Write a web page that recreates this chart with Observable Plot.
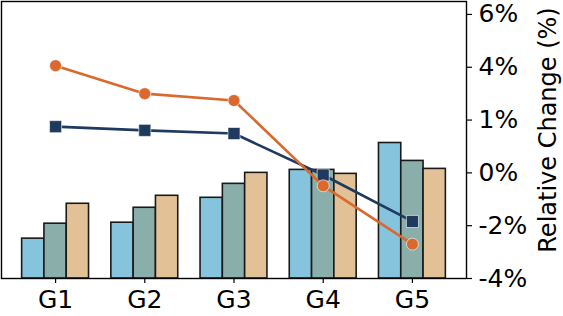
<!DOCTYPE html>
<html>
<head>
<meta charset="utf-8">
<script src="https://cdn.jsdelivr.net/npm/d3@7"></script>
<script src="https://cdn.jsdelivr.net/npm/@observablehq/plot@0.6"></script>
<style>
  html, body { margin: 0; padding: 0; background: #fff; }
  #wrap { position: relative; width: 563px; height: 316px; }
  #wrap svg { position: absolute; left: 0; top: 0; }
</style>
</head>
<body>
<div id="wrap"></div>
<script>
// ---- data ----
const groups = ["G1", "G2", "G3", "G4", "G5"];
const barSeries = ["A", "B", "C"];
const barA = [0.40, 0.56, 0.81, 1.09, 1.36];
const barB = [0.55, 0.71, 0.95, 1.09, 1.18];
const barC = [0.75, 0.83, 1.06, 1.05, 1.10];
const lineOrange = [4.06, 3.00, 2.74, -0.49, -2.70];
const lineNavy = [1.75, 1.61, 1.49, -0.08, -1.84];
const rightTicks = [-4, -2, 0, 2, 4, 6];
const rightTickLabels = ["-4%", "-2%", "0%", "1%", "4%", "6%"];
const yTitle = "Relative Change (%)";

// ---- layout ----
const W = 563, H = 316;
const margins = {marginLeft: 1, marginTop: 1, marginRight: 97, marginBottom: 38};
const font = "DejaVu Sans, sans-serif";
const barColors = ["#86C3DC", "#8AAEA9", "#E3C196"];
const orange = "#D9692F", navy = "#1E3A5F";

// band keys: three bars per group, one empty slot between groups
const keys = [];
groups.forEach((g, i) => {
  barSeries.forEach(s => keys.push(g + "-" + s));
  if (i < groups.length - 1) keys.push("gap" + i);
});
const midKey = g => g + "-" + barSeries[1];

const barVals = [barA, barB, barC];
const bars = [];
groups.forEach((g, i) => barSeries.forEach((s, j) =>
  bars.push({key: g + "-" + s, series: s, value: barVals[j][i]})));

const linesO = groups.map((g, i) => ({key: midKey(g), v: lineOrange[i]}));
const linesN = groups.map((g, i) => ({key: midKey(g), v: lineNavy[i]}));

const xScale = {type: "band", domain: keys, paddingInner: 0, paddingOuter: 0.925, align: 0.5, round: false};

const barPlot = Plot.plot({
  width: W, height: H, ...margins,
  style: {fontFamily: font, fontSize: "24px", background: "transparent", overflow: "visible"},
  x: {...xScale, axis: null},
  y: {domain: [0, 2.78], axis: null},
  color: {domain: barSeries, range: barColors},
  marks: [
    Plot.barY(bars, {x: "key", y: "value", fill: "series", stroke: "#1a1a1a", strokeWidth: 1.6, inset: 0})
  ]
});

const linePlot = Plot.plot({
  width: W, height: H, ...margins,
  style: {fontFamily: font, fontSize: "24px", background: "transparent", overflow: "visible", color: "black"},
  x: xScale,
  y: {domain: [-4, 6.49]},
  marks: [
    Plot.line(linesN, {x: "key", y: "v", stroke: navy, strokeWidth: 2.6}),
    Plot.dot(linesN, {x: "key", y: "v", symbol: "square", r: 6.8, fill: navy, stroke: "white", strokeWidth: 0.6}),
    Plot.line(linesO, {x: "key", y: "v", stroke: orange, strokeWidth: 2.6}),
    Plot.dot(linesO, {x: "key", y: "v", r: 6, fill: orange, stroke: "white", strokeWidth: 0.6}),
    Plot.frame({stroke: "black", strokeWidth: 1.4}),
    Plot.axisX(groups.map(midKey), {tickFormat: k => k.split("-")[0], tickSize: 5, tickPadding: 7, fontSize: 25, label: null, stroke: "black", strokeWidth: 1.2}),
    Plot.axisY(rightTicks, {anchor: "right", tickFormat: v => rightTickLabels[rightTicks.indexOf(v)], tickSize: 5, tickPadding: 7, fontSize: 25,
      label: null, stroke: "black", strokeWidth: 1.2}),
    Plot.text([yTitle], {frameAnchor: "right", rotate: -90, dx: 82, dy: -10, fontSize: 24, fill: "black", textAnchor: "middle", lineAnchor: "middle"})
  ]
});

document.getElementById("wrap").append(barPlot, linePlot);
</script>
</body>
</html>
